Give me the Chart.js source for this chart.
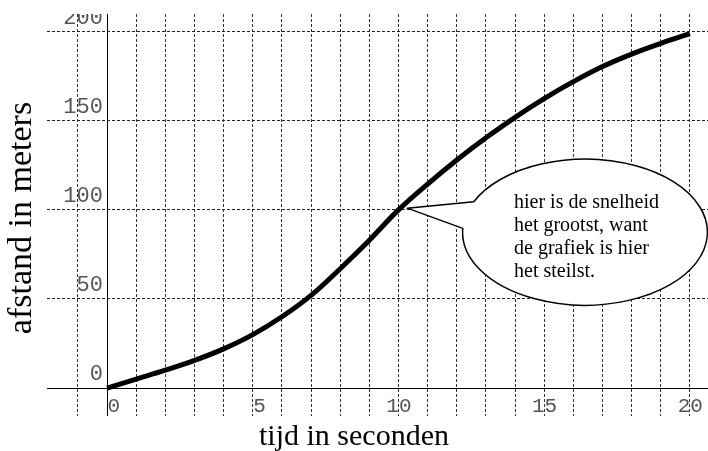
<!DOCTYPE html>
<html>
<head>
<meta charset="utf-8">
<script src="https://cdn.jsdelivr.net/npm/chart.js@4.4.0/dist/chart.umd.min.js"></script>
<style>
  body { margin: 0; background: #fff; }
  #wrap { position: absolute; left: 0; top: 14px; width: 708px; height: 437px; overflow: hidden; }
  #chart { display: block; margin-top: -14px; }
</style>
</head>
<body>
<div id="wrap"><canvas id="chart" width="708" height="451"></canvas></div>
<script>
// tijd in seconden / afstand in meters
const seconds = [0, 1, 2, 3, 4, 5, 6, 7, 8, 9, 10, 11, 12, 13, 14, 15, 16, 17, 18, 19, 20];
const distance = [0, 5, 10, 15.5, 22, 30, 40, 52, 67, 83, 100, 114.5, 128, 140.5, 152, 162.5, 172, 180.5, 187.5, 193.5, 199];
const xGridValues = [-1, ...seconds];
const xTickLabels = [0, 5, 10, 15, 20];
const yTickLabels = [0, 50, 100, 150, 200];
const xTitle = 'tijd in seconden';
const yTitle = 'afstand in meters';
const calloutLines = ['hier is de snelheid', 'het grootst, want', 'de grafiek is hier', 'het steilst.'];
// tekstballon in data-eenheden
const calloutTip = [10.3, 101];
const calloutCenter = [16.4, 87.5];
const calloutRadius = [4.2, 41];

const gridDash = [3, 2];

//TITLES + CALLOUT
const extras = {
  id: 'extras',
  afterDraw(chart) {
    const { ctx, chartArea, scales } = chart;
    const sx = scales.x, sy = scales.y;

    ctx.save();
    ctx.fillStyle = '#000';
    // x title
    ctx.font = '30px "Liberation Serif"';
    ctx.textAlign = 'center';
    ctx.textBaseline = 'alphabetic';
    ctx.fillText(xTitle, chart.width / 2, 445);
    // y title
    ctx.translate(31, (chartArea.top + chartArea.bottom) / 2 + 3);
    ctx.rotate(-Math.PI / 2);
    ctx.font = '34px "Liberation Serif"';
    ctx.fillText(yTitle, 0, 0);
    ctx.restore();

    // tekstballon
    const cx = sx.getPixelForValue(calloutCenter[0]);
    const cy = sy.getPixelForValue(calloutCenter[1]);
    const rx = sx.getPixelForValue(calloutCenter[0] + calloutRadius[0]) - cx;
    const ry = cy - sy.getPixelForValue(calloutCenter[1] + calloutRadius[1]);
    const tx = sx.getPixelForValue(calloutTip[0]);
    const ty = sy.getPixelForValue(calloutTip[1]);
    const aUp = Math.PI * 204.6 / 180;
    const aLow = Math.PI * 183 / 180 + Math.PI * 2;

    ctx.save();
    ctx.beginPath();
    ctx.ellipse(cx, cy, rx, ry, 0, aUp, aLow, false);
    ctx.lineTo(tx, ty);
    ctx.closePath();
    ctx.fillStyle = '#fff';
    ctx.fill();
    ctx.lineWidth = 1.5;
    ctx.strokeStyle = '#000';
    ctx.lineJoin = 'round';
    ctx.stroke();

    ctx.fillStyle = '#000';
    ctx.font = '20px "Liberation Serif"';
    ctx.textAlign = 'left';
    ctx.textBaseline = 'alphabetic';
    calloutLines.forEach((line, i) => {
      ctx.fillText(line, cx - 71, cy - 24.5 + i * 23);
    });
    ctx.restore();
  },
};

new Chart(document.getElementById('chart'), {
  type: 'line',
  data: {
    datasets: [
      {
        data: seconds.map((s, i) => ({ x: s, y: distance[i] })),
        borderColor: '#000',
        borderWidth: 5,
        pointRadius: 0,
        fill: false,
        tension: 0.4,
      },
    ],
  },
  options: {
    responsive: false,
    animation: false,
    layout: { padding: { left: 47, top: 14, right: 0, bottom: 35 } },
    plugins: {
      legend: { display: false },
      tooltip: { enabled: false },
    },
    scales: {
      x: {
        type: 'linear',
        position: { y: 0 },
        min: -2.06,
        max: 20.62,
        afterBuildTicks: (s) => {
          s.ticks = xGridValues.map((v) => ({ value: v }));
        },
        afterFit: (s) => {
          s.paddingLeft = 0;
          s.paddingRight = 0;
          s.paddingTop = 0;
          s.paddingBottom = 0;
        },
        grid: {
          drawTicks: false,
          lineWidth: 1,
          color: (c) => (c.tick && c.tick.value === 0 ? '#000' : '#333'),
        },
        border: {
          color: '#000',
          width: 1,
          dash: (c) => (c.tick && c.tick.value === 0 ? [] : gridDash),
        },
        ticks: {
          autoSkip: false,
          maxRotation: 0,
          align: 'end',
          labelOffset: 13,
          padding: 6,
          color: '#555',
          font: { family: '"Liberation Mono"', size: 21 },
          callback: (v) => (xTickLabels.includes(v) ? String(v) : ''),
        },
      },
      y: {
        type: 'linear',
        position: { x: -0.14 },
        min: -15.7,
        max: 210,
        afterBuildTicks: (s) => {
          s.ticks = yTickLabels.map((v) => ({ value: v }));
        },
        afterFit: (s) => {
          s.paddingLeft = 0;
          s.paddingRight = 0;
          s.paddingTop = 0;
          s.paddingBottom = 0;
        },
        grid: {
          drawTicks: false,
          lineWidth: 1,
          color: (c) => (c.tick && c.tick.value !== 0 ? '#222' : 'transparent'),
        },
        border: { display: false, dash: gridDash },
        ticks: {
          autoSkip: false,
          labelOffset: -14,
          color: '#555',
          font: { family: '"Liberation Mono"', size: 22 },
          callback: (v) => (yTickLabels.includes(v) ? String(v) : ''),
        },
      },
    },
  },
  plugins: [extras],
});
</script>
</body>
</html>
